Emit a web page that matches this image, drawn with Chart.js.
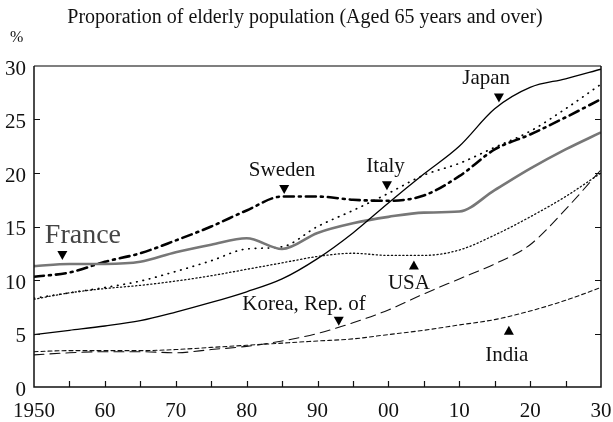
<!DOCTYPE html>
<html>
<head>
<meta charset="utf-8">
<script src="https://cdn.jsdelivr.net/npm/chart.js@4.4.1/dist/chart.umd.min.js"></script>
<style>
  body { margin: 0; background: #fff; }
  #wrap { width: 613px; height: 422px; }
</style>
</head>
<body>
<div id="wrap"><canvas id="agingChart" width="613" height="422"></canvas></div>
<script>
// years along the x axis (every 5 years)
const years = [1950, 1955, 1960, 1965, 1970, 1975, 1980, 1985, 1990, 1995, 2000, 2005, 2010, 2015, 2020, 2025, 2030];

// share of population aged 65+ (%)
const japan  = [4.9, 5.3, 5.7, 6.2, 7.0, 7.9, 8.9, 10.1, 12.0, 14.4, 17.2, 19.9, 22.5, 26.0, 28.0, 28.8, 29.7];
const italy  = [8.3, 8.8, 9.3, 9.9, 10.8, 11.8, 12.9, 13.1, 15.0, 16.5, 18.1, 19.8, 20.9, 22.4, 23.9, 26.0, 28.3];
const sweden = [10.3, 10.7, 11.7, 12.5, 13.7, 15.0, 16.5, 17.8, 17.8, 17.5, 17.4, 17.9, 19.7, 22.2, 23.6, 25.2, 26.9];
const france = [11.3, 11.5, 11.5, 11.7, 12.6, 13.3, 13.9, 12.9, 14.4, 15.3, 15.9, 16.3, 16.4, 18.4, 20.4, 22.2, 23.8];
const usa    = [8.2, 8.8, 9.2, 9.5, 9.9, 10.4, 11.0, 11.6, 12.2, 12.5, 12.3, 12.3, 12.8, 14.2, 15.9, 17.8, 20.0];
const korea  = [3.0, 3.2, 3.3, 3.3, 3.2, 3.5, 3.8, 4.3, 5.0, 6.0, 7.2, 8.7, 10.1, 11.5, 13.3, 16.6, 20.3];
const india  = [3.3, 3.4, 3.4, 3.4, 3.5, 3.7, 3.9, 4.1, 4.3, 4.5, 4.9, 5.3, 5.8, 6.3, 7.1, 8.1, 9.3];

// y tick values
const yTicks = [0, 5, 10, 15, 20, 25, 30];

// country labels: [text, year, value, size, colour], arrows: [year, value, direction]
const labels = [
    ['France', 1956.9, 14.1, 28, '#444'],
    ['Sweden', 1985.0, 20.2, 21, '#111'],
    ['Italy', 1999.6, 20.6, 21, '#111'],
    ['Japan', 2013.8, 28.8, 21, '#111'],
    ['USA', 2002.9, 9.7, 21, '#111'],
    ['Korea, Rep. of', 1988.1, 7.7, 21, '#111'],
    ['India', 2016.7, 2.9, 21, '#111']
];
const arrows = [
    [1954.0, 12.3, 'down'],
    [1985.3, 18.45, 'down'],
    [1999.8, 18.8, 'down'],
    [2015.6, 27.0, 'down'],
    [2003.6, 11.4, 'up'],
    [1993.0, 6.15, 'down'],
    [2017.0, 5.3, 'up']
];

const FONT = '"Liberation Serif", "Times New Roman", serif';

function series(values) {
    return years.map((y, i) => ({ x: y, y: values[i] }));
}

function line(label, values, color, width, dash) {
    return {
        label: label,
        data: series(values),
        borderColor: color,
        borderWidth: width,
        borderDash: dash,
        borderCapStyle: dash.length ? 'round' : 'butt',
        pointRadius: 0,
        fill: false,
        cubicInterpolationMode: 'monotone'
    };
}

const frame = {
    id: 'frame',
    afterDraw(chart) {
        const ctx = chart.ctx;
        const a = chart.chartArea;
        const xs = chart.scales.x;
        const ys = chart.scales.y;
        ctx.save();

        // title and unit
        ctx.fillStyle = '#111';
        ctx.font = '20px ' + FONT;
        ctx.textAlign = 'center';
        ctx.textBaseline = 'middle';
        ctx.fillText('Proporation of elderly population (Aged 65 years and over)', 305, 18);
        ctx.font = '16px ' + FONT;
        ctx.textAlign = 'left';
        ctx.fillText('%', 10, 38);

        // box
        ctx.strokeStyle = '#555';
        ctx.lineWidth = 1.5;
        ctx.beginPath();
        ctx.moveTo(a.left, a.top);
        ctx.lineTo(a.right, a.top);
        ctx.stroke();
        ctx.strokeStyle = '#111';
        ctx.beginPath();
        ctx.moveTo(a.left, a.top);
        ctx.lineTo(a.left, a.bottom);
        ctx.lineTo(a.right, a.bottom);
        ctx.lineTo(a.right, a.top);
        ctx.stroke();

        // inward ticks
        ctx.lineWidth = 1.2;
        ctx.beginPath();
        for (let yr = 1955; yr < 2030; yr += 5) {
            const px = Math.round(xs.getPixelForValue(yr)) + 0.5;
            ctx.moveTo(px, a.bottom);
            ctx.lineTo(px, a.bottom - 6);
        }
        yTicks.slice(1, -1).forEach(v => {
            const py = Math.round(ys.getPixelForValue(v)) + 0.5;
            ctx.moveTo(a.left, py);
            ctx.lineTo(a.left + 6, py);
            ctx.moveTo(a.right, py);
            ctx.lineTo(a.right - 6, py);
        });
        ctx.stroke();

        // country labels
        ctx.textAlign = 'center';
        ctx.textBaseline = 'middle';
        labels.forEach(([text, yr, v, size, color]) => {
            ctx.font = size + 'px ' + FONT;
            ctx.fillStyle = color;
            ctx.fillText(text, xs.getPixelForValue(yr), ys.getPixelForValue(v));
        });

        // arrow heads
        ctx.fillStyle = '#000';
        arrows.forEach(([yr, v, dir]) => {
            const px = xs.getPixelForValue(yr);
            const py = ys.getPixelForValue(v);
            const s = dir === 'down' ? 1 : -1;
            ctx.beginPath();
            ctx.moveTo(px - 5, py - 4.5 * s);
            ctx.lineTo(px + 5, py - 4.5 * s);
            ctx.lineTo(px, py + 4.5 * s);
            ctx.closePath();
            ctx.fill();
        });
        ctx.restore();
    }
};

const ctx = document.getElementById('agingChart').getContext('2d');
new Chart(ctx, {
    type: 'line',
    data: {
        datasets: [
            line('India', india, '#111', 1.1, [4, 3]),
            line('Korea, Rep. of', korea, '#111', 1.1, [10, 6]),
            line('USA', usa, '#111', 1.3, [1.2, 2.6]),
            line('Japan', japan, '#000', 1.3, []),
            line('France', france, '#777', 2.6, []),
            line('Italy', italy, '#000', 1.7, [0.5, 6]),
            line('Sweden', sweden, '#000', 2.6, [10, 5, 2, 5])
        ]
    },
    options: {
        responsive: false,
        animation: false,
        layout: { padding: { top: 66, right: 12, left: 0, bottom: 0 } },
        plugins: {
            legend: { display: false },
            tooltip: { enabled: false }
        },
        scales: {
            x: {
                type: 'linear',
                min: 1950,
                max: 2030,
                afterFit: s => { s.height = 35; s.paddingLeft = 0; s.paddingRight = 0; },
                afterBuildTicks: s => { s.ticks = years.filter(y => y % 10 === 0).map(v => ({ value: v })); },
                grid: { display: false, drawTicks: false },
                border: { display: false },
                ticks: {
                    autoSkip: false,
                    maxRotation: 0,
                    padding: 12,
                    color: '#111',
                    font: { family: FONT, size: 21 },
                    callback: v => v === 1950 ? '1950' : String(v % 100).padStart(2, '0')
                }
            },
            y: {
                min: 0,
                max: 30,
                afterFit: s => { s.width = 34; s.paddingTop = 0; s.paddingBottom = 0; },
                afterBuildTicks: s => { s.ticks = yTicks.map(v => ({ value: v })); },
                grid: { display: false, drawTicks: false },
                border: { display: false },
                ticks: {
                    padding: 8,
                    labelOffset: 3,
                    color: '#111',
                    font: { family: FONT, size: 21 }
                }
            }
        }
    },
    plugins: [frame]
});
</script>
</body>
</html>
